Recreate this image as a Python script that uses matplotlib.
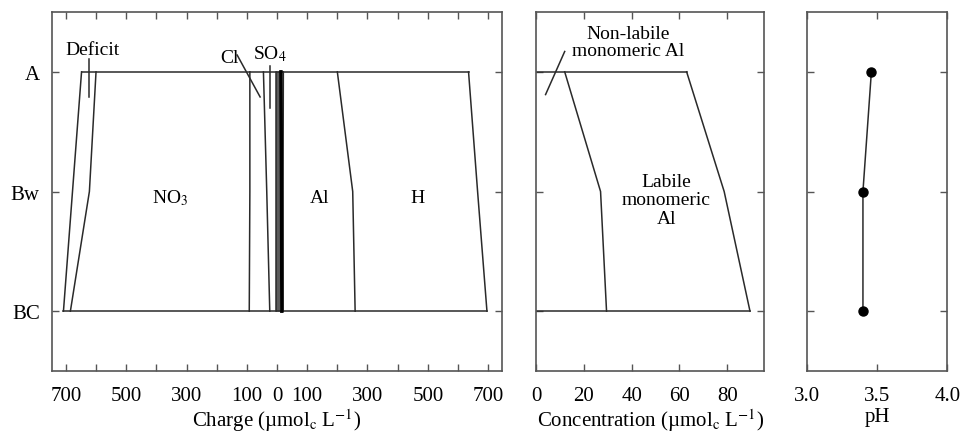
import numpy as np
import matplotlib
matplotlib.use('Agg')
import matplotlib.pyplot as plt

plt.rcParams['font.family'] = ['Liberation Serif', 'DejaVu Serif']
plt.rcParams['mathtext.fontset'] = 'stix'
plt.rcParams['font.size'] = 15

# Horizontes del perfil
horizons = ['A', 'Bw', 'BC']
ypos = [0, 1, 2]

# Balance de cargas (aniones negativos, cationes positivos), umol_c/L
deficit_edge = [-648, -678, -708]
no3_edge = [-600, -622, -685]
cl_edge = [-90, -90, -92]
so4_edge = [-45, -34, -24]
other_an_edge = [-4, -4, -4]
zero_edge = [0, 0, 0]
bc1_edge = [5, 5, 5]
bc2_edge = [13, 15, 16]
bc3_edge = [21, 20, 20]
al_edge = [200, 251, 259]
h_edge = [635, 665, 696]

# Aluminio (umol_c/L)
nonlabile_al = [12, 27, 29.5]
total_al = [63, 78.7, 89.5]

# pH
ph = [3.46, 3.40, 3.40]

lc = '#2a2a2a'
sc = '#555555'

fig = plt.figure(figsize=(9.63, 4.39), dpi=100)
ax1 = fig.add_axes([0.0543, 0.1526, 0.4667, 0.8178])
ax2 = fig.add_axes([0.5566, 0.1526, 0.2371, 0.8178])
ax3 = fig.add_axes([0.8377, 0.1526, 0.1460, 0.8178])

for ax in (ax1, ax2, ax3):
    ax.set_ylim(2.5, -0.5)
    ax.set_yticks(ypos)
    ax.tick_params(direction='in', length=5, width=1, color=sc,
                   top=True, right=True, labelsize=15)
    ax.tick_params(axis='x', pad=11)
    ax.tick_params(axis='y', pad=9)
    for s in ax.spines.values():
        s.set_color(sc)
        s.set_linewidth(1.2)

# --- Panel 1: cargas
edges = [deficit_edge, no3_edge, cl_edge, so4_edge, other_an_edge,
         zero_edge, bc1_edge, bc2_edge, bc3_edge, al_edge, h_edge]
for e in edges:
    ax1.plot(e, ypos, color=lc, lw=1.1)
ax1.plot([deficit_edge[0], h_edge[0]], [ypos[0], ypos[0]], color=lc, lw=1.1)
ax1.plot([deficit_edge[-1], h_edge[-1]], [ypos[-1], ypos[-1]], color=lc, lw=1.1)
ax1.plot(bc2_edge, ypos, color='black', lw=2.5)

ax1.set_xlim(-745, 745)
xt = np.arange(-700, 701, 100)
ax1.set_xticks(xt)
ax1.set_xticklabels([str(abs(v)) if (abs(v) // 100) % 2 == 1 or v == 0 else ''
                     for v in xt])
ax1.set_yticklabels(horizons)
ax1.set_xlabel('Charge (µmol$_{\\rm c}$ L$^{-1}$)', fontsize=15, labelpad=1)

ax1.text(-612, -0.19, 'Deficit', ha='center', va='center', fontsize=14)
ax1.plot([-622, -622], [-0.11, 0.21], color=lc, lw=1.1)
ax1.text(-158, -0.12, 'Cl', ha='center', va='center', fontsize=14)
ax1.plot([-132, -56], [-0.14, 0.21], color=lc, lw=1.1)
ax1.text(-25, -0.16, 'SO$_4$', ha='center', va='center', fontsize=14)
ax1.plot([-24, -24], [-0.05, 0.3], color=lc, lw=1.1)
ax1.text(-355, 1.05, 'NO$_3$', ha='center', va='center', fontsize=14)
ax1.text(140, 1.05, 'Al', ha='center', va='center', fontsize=14)
ax1.text(465, 1.05, 'H', ha='center', va='center', fontsize=14)

# --- Panel 2: aluminio
ax2.plot(nonlabile_al, ypos, color=lc, lw=1.1)
ax2.plot(total_al, ypos, color=lc, lw=1.1)
ax2.plot([0, total_al[0]], [ypos[0], ypos[0]], color=lc, lw=1.1)
ax2.plot([0, total_al[-1]], [ypos[-1], ypos[-1]], color=lc, lw=1.1)
ax2.set_xlim(0, 95.5)
ax2.set_xticks([0, 20, 40, 60, 80])
ax2.set_yticklabels([])
ax2.set_xlabel('Concentration (µmol$_{\\rm c}$ L$^{-1}$)', fontsize=15,
               labelpad=1)
ax2.text(38.5, -0.25, 'Non-labile\nmonomeric Al', ha='center', va='center',
         fontsize=14, linespacing=1.0)
ax2.plot([4, 12], [0.19, -0.17], color=lc, lw=1.1)
ax2.text(54.5, 1.07, 'Labile\nmonomeric\nAl', ha='center', va='center',
         fontsize=14, linespacing=1.1)

# --- Panel 3: pH
ax3.plot(ph, ypos, color=lc, lw=1.1, marker='o', markersize=6.5,
         markerfacecolor='black', markeredgecolor='black')
ax3.set_xlim(3.0, 4.0)
ax3.set_xticks([3.0, 3.5, 4.0])
ax3.set_xticklabels(['3.0', '3.5', '4.0'])
ax3.set_yticklabels([])
ax3.set_xlabel('pH', fontsize=15, labelpad=1)

fig.savefig('out.png', dpi=100)
